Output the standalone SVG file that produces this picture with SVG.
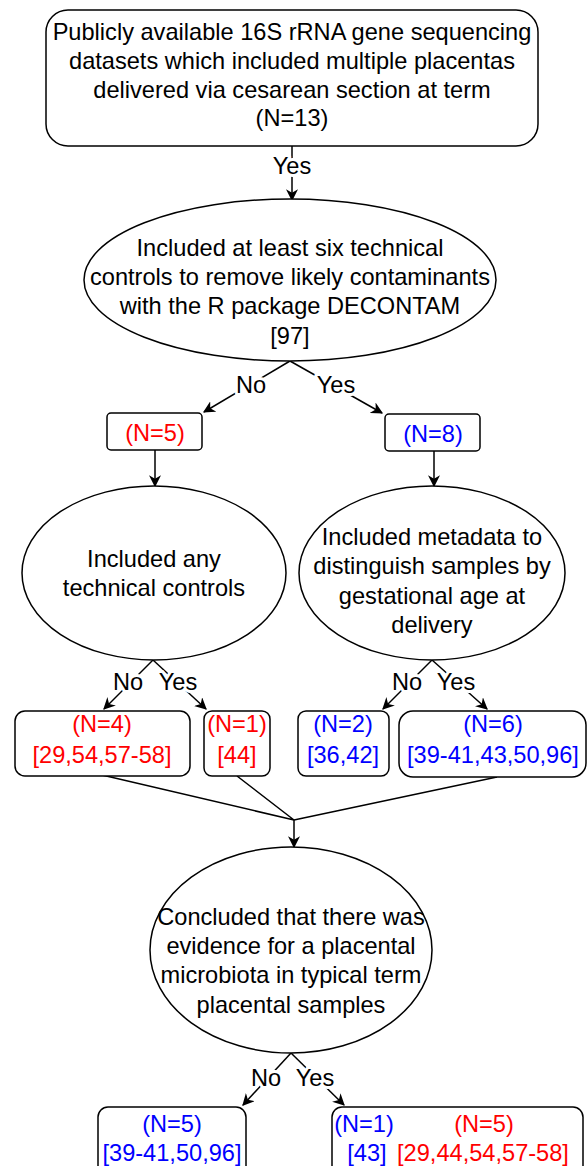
<svg xmlns="http://www.w3.org/2000/svg" width="587" height="1166" viewBox="0 0 587 1166">
<style>
text{font-family:"Liberation Sans",Arial,sans-serif;font-size:23.6px;text-anchor:middle;fill:#000}
.r{fill:#ff0000}.b{fill:#0000ff}
.lbl{paint-order:stroke;stroke:#fff;stroke-width:6px;stroke-linejoin:round}
.n{fill:#fff;stroke:#000;stroke-width:1.5}
.e{fill:none;stroke:#000;stroke-width:1.5}
</style>
<defs>
<marker id="a" viewBox="0 0 10 10" refX="9" refY="5" markerWidth="12" markerHeight="12" markerUnits="userSpaceOnUse" orient="auto"><path d="M0,0L10,5L0,10L3,5z" fill="#000"/></marker>
</defs>
<g id="connectors">
<path class="e" d="M292,146V200" marker-end="url(#a)"/>
<path class="e" d="M290,361L204,412" marker-end="url(#a)"/>
<path class="e" d="M290,361L382,413" marker-end="url(#a)"/>
<path class="e" d="M155,450V486" marker-end="url(#a)"/>
<path class="e" d="M434,451V486" marker-end="url(#a)"/>
<path class="e" d="M153,660L104,709" marker-end="url(#a)"/>
<path class="e" d="M153,660L206,709" marker-end="url(#a)"/>
<path class="e" d="M432,660L383,709" marker-end="url(#a)"/>
<path class="e" d="M432,660L487,709" marker-end="url(#a)"/>
<path class="e" d="M102,775L294,820M237,776L294,820M497,777L294,820"/>
<path class="e" d="M294,820V847" marker-end="url(#a)"/>
<path class="e" d="M291,1053L243,1105" marker-end="url(#a)"/>
<path class="e" d="M291,1053L344,1105" marker-end="url(#a)"/>
<text class="lbl" x="292" y="174">Yes</text>
<text class="lbl" x="251" y="393">No</text>
<text class="lbl" x="336" y="393">Yes</text>
<text class="lbl" x="128" y="690">No</text>
<text class="lbl" x="178" y="690">Yes</text>
<text class="lbl" x="407" y="690">No</text>
<text class="lbl" x="456" y="690">Yes</text>
<text class="lbl" x="266" y="1086">No</text>
<text class="lbl" x="315" y="1086">Yes</text>
</g>
<g id="start">
<rect class="n" x="46" y="10" width="492" height="136" rx="22"/>
<text x="292" y="40">Publicly available 16S rRNA gene sequencing</text>
<text x="292" y="69">datasets which included multiple placentas</text>
<text x="292" y="98">delivered via cesarean section at term</text>
<text x="292" y="126">(N=13)</text>
</g>
<g id="decontam">
<ellipse class="n" cx="290" cy="280" rx="206" ry="81"/>
<text x="290" y="256">Included at least six technical</text>
<text x="290" y="285">controls to remove likely contaminants</text>
<text x="290" y="314">with the R package DECONTAM</text>
<text x="290" y="344">[97]</text>
</g>
<g id="n5">
<rect class="n" x="107" y="413" width="95" height="37" rx="4"/>
<text class="r" x="155" y="441">(N=5)</text>
</g>
<g id="n8">
<rect class="n" x="385" y="414" width="95" height="37" rx="4"/>
<text class="b" x="433" y="442">(N=8)</text>
</g>
<g id="anyctrl">
<ellipse class="n" cx="154" cy="573" rx="132" ry="87"/>
<text x="154" y="567">Included any</text>
<text x="154" y="596">technical controls</text>
</g>
<g id="metadata">
<ellipse class="n" cx="432" cy="573" rx="133" ry="87"/>
<text x="432" y="545">Included metadata to</text>
<text x="432" y="574">distinguish samples by</text>
<text x="432" y="604">gestational age at</text>
<text x="432" y="633">delivery</text>
</g>
<g id="n4">
<rect class="n" x="15" y="711" width="175" height="65" rx="10"/>
<text class="r" x="102" y="732">(N=4)</text>
<text class="r" x="102" y="763">[29,54,57-58]</text>
</g>
<g id="n1">
<rect class="n" x="204" y="711" width="66" height="65" rx="8"/>
<text class="r" x="237" y="732">(N=1)</text>
<text class="r" x="237" y="763">[44]</text>
</g>
<g id="n2">
<rect class="n" x="298" y="711" width="91" height="65" rx="8" stroke-width="2.5"/>
<text class="b" x="343" y="732">(N=2)</text>
<text class="b" x="343" y="763">[36,42]</text>
</g>
<g id="n6">
<rect class="n" x="399" y="711" width="187" height="66" rx="14"/>
<text class="b" x="493" y="732">(N=6)</text>
<text class="b" x="493" y="763">[39-41,43,50,96]</text>
</g>
<g id="concluded">
<ellipse class="n" cx="291" cy="950" rx="141" ry="103"/>
<text x="291" y="925">Concluded that there was</text>
<text x="291" y="954">evidence for a placental</text>
<text x="291" y="983">microbiota in typical term</text>
<text x="291" y="1013">placental samples</text>
</g>
<g id="noev">
<rect class="n" x="98" y="1107" width="148" height="70" rx="10"/>
<text class="b" x="172" y="1132">(N=5)</text>
<text class="b" x="172" y="1161">[39-41,50,96]</text>
</g>
<g id="yesev">
<rect class="n" x="332" y="1107" width="251" height="70" rx="10"/>
<text class="b" x="364" y="1132">(N=1)</text>
<text class="r" x="484" y="1132">(N=5)</text>
<text class="b" x="367" y="1161">[43]</text>
<text class="r" x="483" y="1161">[29,44,54,57-58]</text>
</g>
</svg>
